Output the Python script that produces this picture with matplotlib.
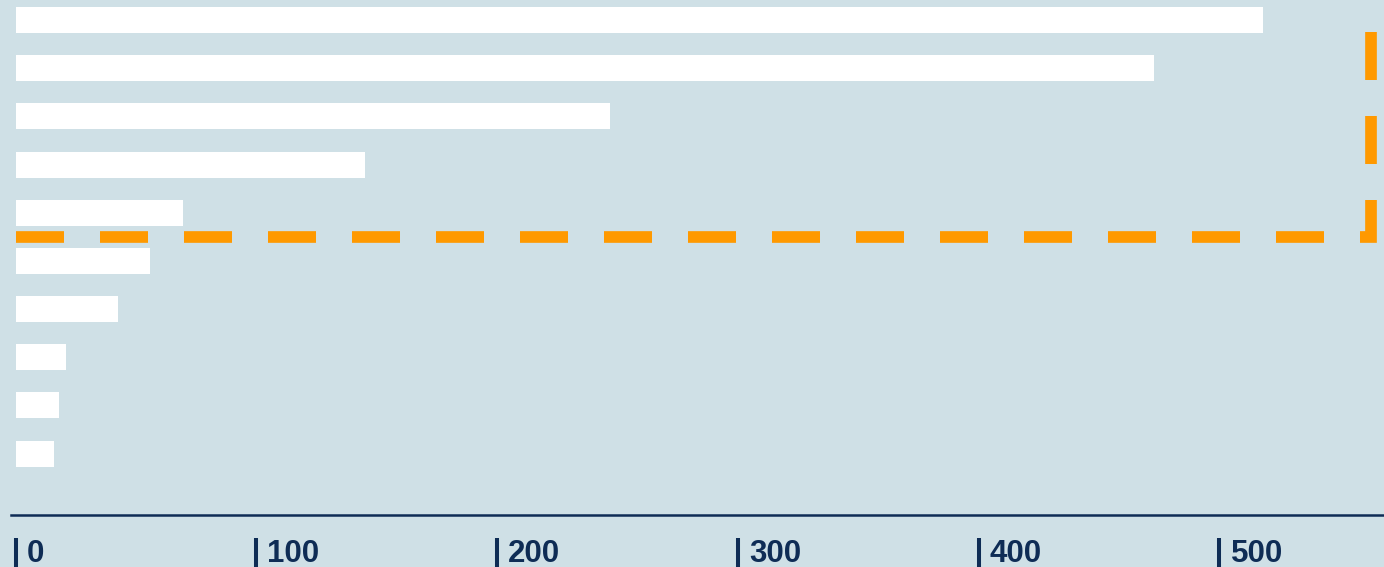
import matplotlib
matplotlib.use("Agg")
import matplotlib.pyplot as plt
from matplotlib.transforms import ScaledTranslation

# Bar values, top to bottom
values = [518, 473, 247, 145, 69.5, 56, 42.5, 21, 18, 16]
categories = list(range(len(values)))
tick_values = [0, 100, 200, 300, 400, 500]
tick_labels = ["0", "100", "200", "300", "400", "500"]

# Dashed threshold frame: horizontal level between rows and a vertical cut-off
threshold_row = 4.5
threshold_x = 563

BG = "#cfe0e6"
NAVY = "#0e2c55"
ORANGE = "#ff9900"

plt.rcParams["lines.scale_dashes"] = False

DPI = 100
W, H = 1384, 567
fig = plt.figure(figsize=(W / DPI, H / DPI), dpi=DPI, facecolor=BG)

# axes spans from x=11px to the right edge, y from the top down to the baseline at 515px
ax = fig.add_axes([11 / W, (H - 515) / H, (W - 11) / W, 515 / H])
ax.set_facecolor(BG)

px_per_unit = 240.8 / 100
ax.set_xlim(-4.5 / px_per_unit, (W - 15.5) / px_per_unit)
row_px = 48.17
ax.set_ylim((515 - 20) / row_px, -20 / row_px)

ax.barh(categories, values, height=0.54, color="white", edgecolor="none", zorder=2)

ax.plot([0, threshold_x, threshold_x],
        [threshold_row, threshold_row, ax.get_ylim()[1]],
        color=ORANGE, lw=8.4, dashes=(34.56, 25.92),
        solid_capstyle="butt", dash_capstyle="butt",
        dash_joinstyle="miter", solid_joinstyle="miter", zorder=3)

for side in ["top", "left", "right"]:
    ax.spines[side].set_visible(False)
ax.spines["bottom"].set_color(NAVY)
ax.spines["bottom"].set_linewidth(1.8)
ax.set_yticks([])
ax.set_xticks([])

# tick marks and labels sit a little below the baseline
sec = ax.secondary_xaxis(-23 / 515)
sec.spines["bottom"].set_visible(False)
sec.set_xticks(tick_values)
sec.set_xticklabels(tick_labels)
sec.tick_params(axis="x", direction="out", length=21, width=2.9,
                color=NAVY, pad=-20.0, labelcolor=NAVY)
offset = ScaledTranslation(11.0 / DPI, 0, fig.dpi_scale_trans)
for lbl in sec.get_xticklabels():
    lbl.set_fontfamily(["Liberation Sans", "DejaVu Sans"])
    lbl.set_fontweight("bold")
    lbl.set_fontsize(22.5)
    lbl.set_horizontalalignment("left")
    lbl.set_transform(lbl.get_transform() + offset)

fig.savefig("out.png", dpi=DPI, facecolor=BG)
